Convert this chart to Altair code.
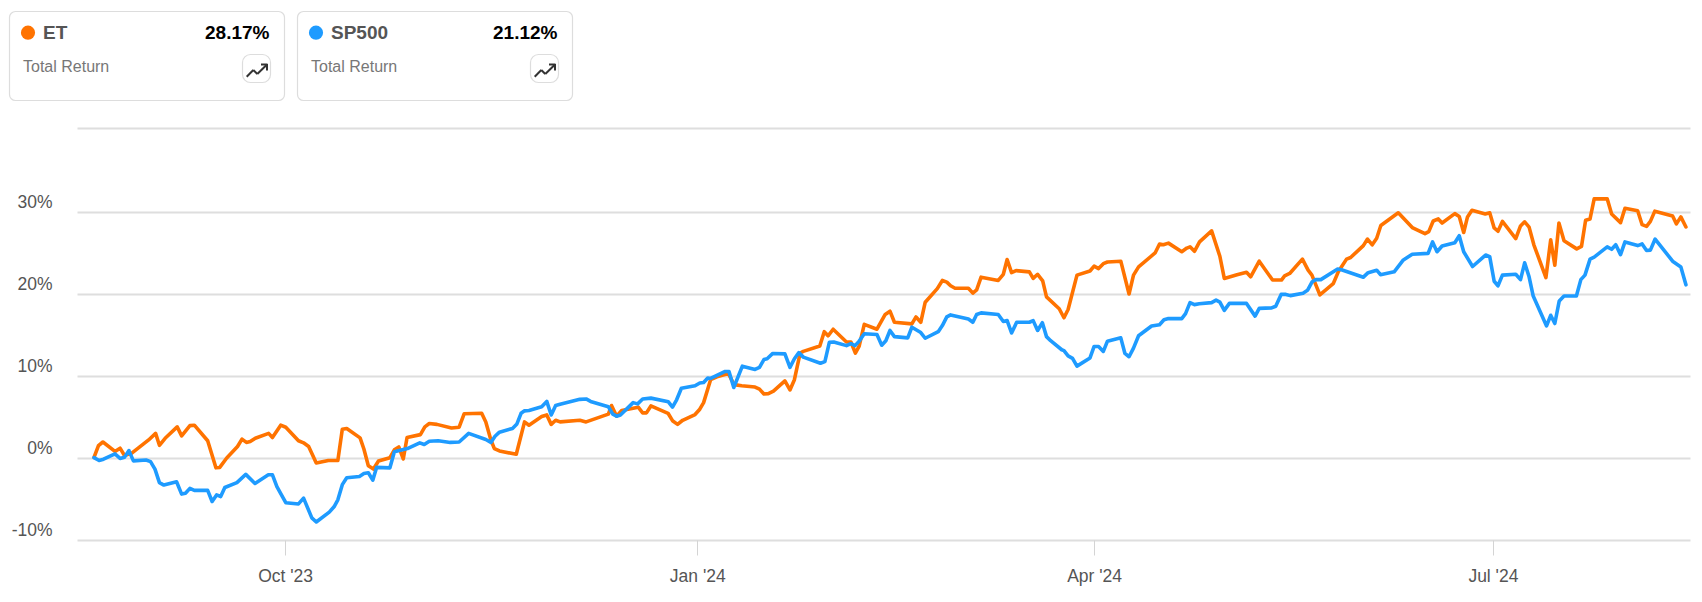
import altair as alt
import pandas as pd

et_session = [0,0.7,1.4,3.3,4.1,4.8,5.9,8.6,9.7,10.3,11.2,13.1,13.8,15.1,15.8,17.9,19.2,19.8,20.9,22.6,23.3,24.0,24.6,25.4,27.5,28.1,29.4,30.2,32.2,33.0,33.8,35.0,36.9,38.4,39.1,39.8,41.9,42.5,43.2,44.0,44.8,46.6,47.3,48.0,48.7,49.3,51.4,52.1,52.8,54.0,56.3,57.5,58.3,
61.05,61.7,62.5,63.05,63.85,66.5,67.8,68.5,70.5,71.3,72.0,72.7,73.4,76.5,77.5,81.0,81.5,82.3,83.1,85.7,86.4,87.0,87.7,90.4,91.1,91.9,92.7,94.65,95.4,96.0,97.1,98.1,99.9,100.8,102.0,104.1,104.8,105.5,106.2,107.0,108.8,109.6,110.3,111.2,111.7,114.3,115.0,115.6,116.4,118.5,119.2,119.9,120.5,121.3,123.3,
124.6,125.35,126.05,128.8,129.45,130.2,130.9,132.8,133.6,134.3,134.9,135.6,137.7,138.4,139.0,139.7,142.4,143.2,143.8,144.5,145.2,147.3,147.9,148.6,149.4,150.0,152.0,152.75,153.4,154.8,156.85,157.5,158.2,158.95,159.6,161.7,163.0,163.7,164.5,167.1,167.8,168.4,169.2,171.3,172.1,172.6,173.3,174.1,176.0,177.3,178.0,180.0,181.5,182.15,183.5,
185.6,187.0,187.5,188.3,190.3,191.2,191.8,193.05,195.15,195.95,197.25,197.9,199.9,200.55,201.3,202.0,202.65,205.4,207.6,209.6,210.2,210.9,211.7,212.3,214.3,215.0,215.7,216.3,217.0,219.1,219.8,220.5,221.1,221.8,223.9,224.65,225.3,226.0,226.75,228.65,229.4,230.05,230.7,231.5,233.5,234.25,234.9,235.6,236.25,238.3,239.0,240.4,241.1,243.1,243.8,244.5,245.1,245.8,248.6,249.2,249.9,250.7]
et_return = [0.08,1.5,1.95,0.8,1.2,0.3,0.57,2.2,3.0,1.55,2.4,3.8,2.7,3.95,4.0,2.1,-1.2,-1.15,0,1.4,2.3,1.9,2.0,2.4,3.0,2.5,4.0,3.75,2.1,1.85,1.4,-0.6,-0.3,-0.3,3.5,3.6,2.45,1.1,-0.95,-1.35,-0.37,0.04,1.0,1.35,-0.12,2.5,2.85,3.8,4.2,4.1,3.65,3.75,5.4,
5.45,4.4,2.2,1.15,0.86,0.45,4.4,4.0,5.05,5.25,4.1,4.6,4.4,4.6,4.4,5.35,6.4,5.1,5.8,6.2,5.5,5.5,6.35,5.45,4.55,4.1,4.6,5.3,5.95,6.75,9.55,9.9,10.3,8.95,8.8,8.65,8.4,7.8,7.85,8.15,9.4,8.3,9.55,12.8,13.0,13.65,15.4,14.9,15.7,14.15,14.15,12.8,13.65,16.3,15.7,
17.5,17.9,16.55,16.35,17.2,16.55,19.0,20.65,21.65,21.45,21.0,20.7,20.7,20.1,20.5,22.05,21.65,22.4,24.2,22.6,22.85,22.7,21.9,22.4,21.6,19.65,18.2,17.1,18.1,22.3,22.8,23.4,23.1,23.7,23.9,24.0,20.0,22.3,23.3,25.0,26.1,26.0,26.2,25.15,25.6,25.75,25.2,26.35,27.7,24.6,21.9,22.35,22.65,22.1,24.0,
21.7,21.7,22.2,22.5,24.25,22.9,22.3,19.9,21.25,22.7,24.25,24.45,25.9,26.7,26.0,26.8,28.35,29.9,28.1,27.35,27.6,28.9,29.15,28.65,29.8,29.45,27.5,29.4,30.2,29.75,29.9,28.05,27.65,28.85,26.75,28.3,28.8,28.15,26.0,22.0,26.6,23.5,28.65,26.5,25.5,25.8,29.0,29.15,31.6,31.6,29.75,28.7,30.45,30.15,28.45,28.25,28.85,30.1,29.5,28.55,29.4,28.17]

sp_session = [0,0.8,1.5,3.3,4.1,4.8,5.5,6.2,8.2,8.9,9.6,10.3,11.0,13.0,13.8,14.4,15.1,15.8,17.9,18.6,19.3,19.95,20.6,22.5,23.9,25.35,27.45,28.1,28.8,29.45,30.2,32.2,33.0,34.3,35.0,37.05,37.8,38.4,39.1,39.8,41.8,42.5,43.2,43.9,44.5,46.6,47.3,49.35,51.3,52.0,52.8,54.2,56.1,57.5,
59.0,61.7,62.5,63.15,63.85,65.9,66.6,67.25,67.8,68.5,70.5,71.3,72.0,72.7,73.4,76.5,77.5,78.2,81.0,81.7,82.3,82.9,84.9,85.6,86.4,87.7,90.45,91.1,91.75,92.5,94.65,95.4,96.0,96.65,97.1,99.4,100.0,100.75,102.1,104.1,104.8,105.5,106.0,106.9,108.8,109.6,110.3,111.0,111.7,114.4,115.1,115.8,116.5,118.5,119.2,119.85,120.5,121.3,123.3,
124.05,124.7,125.35,126.05,128.15,128.8,130.2,130.9,132.95,133.6,134.3,134.9,137.7,138.4,139.0,139.7,142.4,143.2,143.8,144.5,145.3,147.3,147.9,148.6,149.35,150.0,150.65,152.4,152.75,153.4,154.1,154.8,156.85,157.5,158.2,158.95,159.6,161.7,162.35,163.0,163.7,164.5,166.55,167.8,168.5,169.2,171.3,171.9,172.6,173.3,174.05,176.0,176.7,177.3,178.0,178.8,181.5,182.85,183.5,185.45,186.1,
186.95,187.7,188.4,190.4,191.1,191.85,192.4,193.2,195.85,196.45,199.9,200.65,202.0,202.6,204.75,206.2,207.6,210.1,210.8,211.5,212.3,214.3,215.0,215.7,217.1,219.15,219.8,220.5,221.1,221.8,223.9,224.65,225.3,226.0,226.65,228.75,229.4,230.05,230.75,231.5,233.45,234.15,234.8,235.6,236.25,238.3,239.0,239.65,240.4,241.1,243.1,243.8,244.5,245.1,245.85,248.6,249.9,250.7]
sp_return = [0.04,-0.3,-0.15,0.5,-0.05,0.1,0.9,-0.35,-0.25,-0.45,-1.35,-3.0,-3.3,-2.9,-4.4,-4.3,-3.7,-3.95,-3.95,-5.3,-4.5,-4.7,-3.6,-3.0,-2.0,-3.1,-2.05,-2.05,-3.5,-4.4,-5.45,-5.6,-4.9,-7.3,-7.8,-6.6,-5.95,-5.1,-3.25,-2.4,-2.25,-1.9,-1.8,-2.7,-1.15,-1.2,0.77,1.15,1.85,1.65,2.05,2.1,1.9,1.95,
3.0,2.25,1.9,2.65,3.15,3.6,4.15,5.45,5.75,5.8,6.25,6.9,5.25,6.4,6.55,7.15,7.2,6.9,6.25,5.35,5.1,5.25,6.75,6.6,7.2,7.3,6.85,6.2,7.1,8.5,8.8,9.15,9.2,9.75,9.7,10.55,10.55,8.6,11.2,10.8,11.05,12.0,12.1,12.75,12.7,11.05,12.1,12.85,12.3,11.55,11.75,14.1,14.15,13.7,13.95,13.7,14.25,15.15,15.05,
13.75,14.3,15.55,14.8,14.65,15.95,15.3,14.6,15.4,16.15,17.2,17.45,16.95,16.55,17.5,17.7,17.5,16.65,16.75,15.25,16.55,16.55,16.75,15.55,16.5,14.8,14.3,13.2,13.1,12.45,12.15,11.2,12.2,13.6,13.6,13.0,14.25,14.65,12.75,12.35,13.4,14.9,16.1,16.25,16.85,17.0,17.0,17.6,18.95,18.7,18.8,18.95,19.25,19.0,18.0,18.85,18.85,17.3,18.25,18.3,18.5,
19.95,19.95,19.8,20.1,20.45,21.5,21.75,21.75,23.05,22.95,22.05,22.6,22.9,22.35,22.7,24.15,24.85,24.95,26.35,25.15,25.85,26.25,27.1,25.15,23.35,24.75,24.55,21.55,21.0,22.3,22.4,21.75,23.8,22.1,19.75,16.1,17.4,16.4,19.15,19.75,19.75,21.75,22.3,24.25,24.5,25.75,25.45,26.0,24.8,26.35,25.9,26.1,25.3,25.35,26.7,24.0,23.3,21.12]

tick_sessions = [30.1, 95.0, 157.5, 220.3]
tick_labels = ["Oct '23", "Jan '24", "Apr '24", "Jul '24"]
y_ticks = [-10, 0, 10, 20, 30, 40.24]

FONT = "Liberation Sans"
ORANGE = "#ff7300"
BLUE = "#1e9bff"
GRID = "#dedede"

label_expr = " : ".join(
    f'datum.value < {t + 1} ? "{l}"' for t, l in zip(tick_sessions, tick_labels)
) + ' : ""'

x_enc = alt.X(
    "session:Q",
    title=None,
    scale=alt.Scale(domain=[-2.68, 251.34], nice=False, zero=False),
    axis=alt.Axis(
        values=tick_sessions, labelExpr=label_expr, grid=False, domain=False,
        ticks=True, tickSize=15, tickColor="#d4d4d4", tickWidth=1,
        labelFont=FONT, labelFontSize=17.5, labelColor="#555555", labelPadding=12,
        labelFlush=False, labelOverlap=False,
    ),
)
y_enc = alt.Y(
    "ret:Q",
    title=None,
    scale=alt.Scale(domain=[-10, 40.24], nice=False, zero=False),
    axis=alt.Axis(
        values=y_ticks, labelExpr='datum.value > 35 ? "" : datum.value + "%"',
        grid=True, gridColor=GRID, gridWidth=2, domain=False, ticks=False,
        tickSize=0, labelPadding=25, labelOffset=-9.5, labelBaseline="middle",
        labelFont=FONT, labelFontSize=17.5, labelColor="#555555", labelAlign="right",
        labelOverlap=False, labelFlush=False,
    ),
)

et_df = pd.DataFrame({"session": et_session, "ret": et_return})
sp_df = pd.DataFrame({"session": sp_session, "ret": sp_return})


def line(df, color):
    return alt.Chart(df).mark_line(
        color=color, strokeWidth=3.6, strokeJoin="round", strokeCap="round", clip=False
    ).encode(x=x_enc, y=y_enc)


blank = alt.Data(values=[{"a": 1}])
X0, Y0 = 77, 128  # page position of the plot area's top-left corner


def box(l, t, r, b, radius):
    return alt.Chart(blank).mark_rect(
        fill="white", stroke="#dddddd", strokeWidth=1.2, cornerRadius=radius
    ).encode(
        x=alt.value(l - X0), x2=alt.value(r - X0),
        y=alt.value(t - Y0), y2=alt.value(b - Y0),
    )


def label(text, x, y, size, color, bold=False, align="left"):
    return alt.Chart(blank).mark_text(
        font=FONT, fontSize=size, color=color, align=align, baseline="middle",
        fontWeight="bold" if bold else "normal",
    ).encode(x=alt.value(x - X0), y=alt.value(y - Y0), text=alt.value(text))


def stroke(x1, y1, x2, y2):
    return alt.Chart(blank).mark_rule(color="#333333", strokeWidth=2).encode(
        x=alt.value(x1 - X0), x2=alt.value(x2 - X0),
        y=alt.value(y1 - Y0), y2=alt.value(y2 - Y0),
    )


def card(dx, name, value, color):
    dot = alt.Chart(blank).mark_point(
        filled=True, size=201, color=color, opacity=1, shape="circle"
    ).encode(x=alt.value(28 + dx - X0), y=alt.value(32.7 - Y0))
    return [
        box(9.5 + dx, 11.5, 284.5 + dx, 100.5, 6),
        dot,
        label(name, 43 + dx, 33, 19, "#555555", bold=True),
        label(value, 269.5 + dx, 33, 19, "#000000", bold=True, align="right"),
        label("Total Return", 23 + dx, 66.5, 16, "#777777"),
        box(242.5 + dx, 54.5, 270.5 + dx, 82.5, 8),
        stroke(246.7 + dx, 76.7, 253.3 + dx, 70),
        stroke(253.3 + dx, 70, 257.3 + dx, 74),
        stroke(257.3 + dx, 74, 266.5 + dx, 65),
        stroke(261 + dx, 64.5, 267.5 + dx, 64.5),
        stroke(267 + dx, 64, 267 + dx, 70.5),
    ]


layers = [line(et_df, ORANGE), line(sp_df, BLUE)]
layers += card(0, "ET", "28.17%", ORANGE)
layers += card(288, "SP500", "21.12%", BLUE)

chart = alt.layer(*layers).properties(
    width=1613,
    height=412,
    padding={"left": 69, "top": 120, "right": 4, "bottom": 50},
    autosize=alt.AutoSizeParams(type="none"),
).configure_view(stroke=None)

chart.save("out.html", embed_options={"renderer": "svg", "actions": False})
